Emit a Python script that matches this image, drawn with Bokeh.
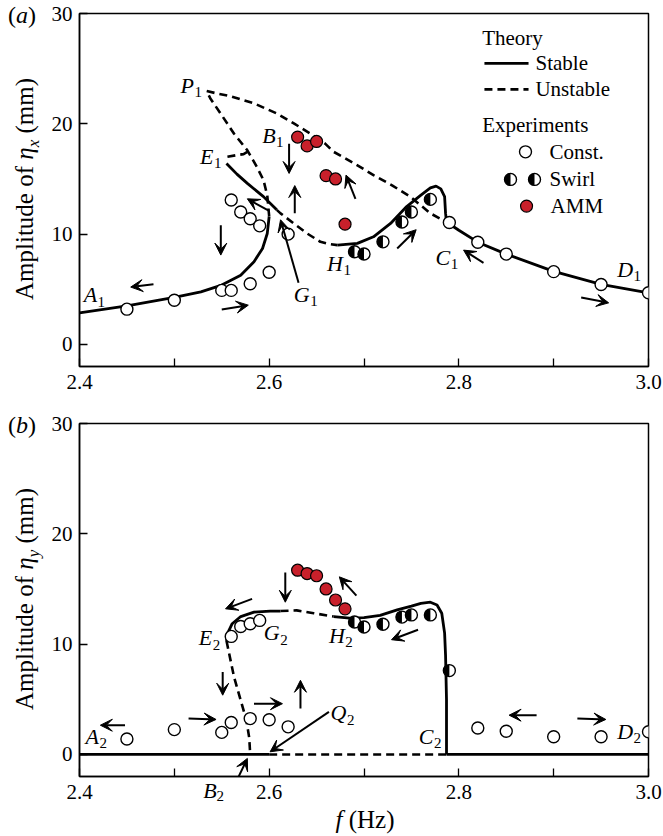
import numpy as np
from bokeh.plotting import figure
from bokeh.layouts import column, row
from bokeh.models import (Range1d, FixedTicker, PrintfTickFormatter, Label, Arrow, VeeHead,
                          ColumnDataSource, LinearAxis, CustomJSTickFormatter, Div)
from bokeh.embed import file_html
from bokeh.resources import INLINE

SERIF = "Liberation Serif"
RED = "#C8202B"

# ---------------- panel (a): eta_x ----------------
# planar branch, lower stable part A1 -> fold
pl_lo_f = [2.400, 2.450, 2.500, 2.528, 2.550, 2.570, 2.584, 2.593, 2.598, 2.600]
pl_lo_a = [2.87, 3.50, 4.26, 4.77, 5.38, 6.28, 7.50, 8.70, 10.06, 11.60]
# planar branch, unstable part fold -> P1 -> C1
pl_un_f = [2.600, 2.599, 2.598, 2.594, 2.587, 2.577, 2.563, 2.549, 2.538, 2.534,
           2.545, 2.559, 2.584, 2.608, 2.626, 2.643, 2.659, 2.668, 2.690, 2.710,
           2.730, 2.749, 2.770, 2.787]
pl_un_a = [11.60, 12.60, 13.50, 14.90, 16.10, 17.60, 19.10, 20.90, 22.30, 22.97,
           22.75, 22.50, 21.85, 20.94, 20.04, 19.13, 18.20, 17.46, 16.40, 15.35,
           14.40, 13.38, 11.88, 11.10]
# planar branch, upper stable part C1 -> D1
pl_hi_f = [2.787, 2.800, 2.820, 2.850, 2.900, 2.950, 3.000]
pl_hi_a = [11.10, 10.35, 9.27, 8.19, 6.62, 5.44, 4.68]
# swirling branch
sw1_f = [2.555, 2.566, 2.577, 2.594, 2.608]
sw1_a = [16.41, 15.44, 14.60, 13.40, 12.20]
sw1u_f = [2.608, 2.612, 2.626, 2.640, 2.654, 2.663, 2.672]
sw1u_a = [12.20, 11.88, 10.97, 10.06, 9.30, 9.10, 9.00]
sw2_f = [2.672, 2.693, 2.710, 2.728, 2.745, 2.760, 2.770, 2.776, 2.781, 2.785, 2.786, 2.787]
sw2_a = [9.00, 9.16, 9.76, 10.97, 12.50, 13.54, 14.20, 14.35, 14.10, 13.40, 11.90, 11.10]
eb_f = [2.556, 2.565, 2.573, 2.577]
eb_a = [17.01, 17.15, 17.25, 17.45]

# experiments
cx_f = [2.45, 2.50, 2.55, 2.56, 2.58, 2.60, 2.56, 2.57, 2.58, 2.59, 2.62,
        2.79, 2.82, 2.85, 2.90, 2.95, 3.00]
cx_a = [3.2, 4.0, 4.9, 4.9, 5.5, 6.55, 13.1, 12.0, 11.4, 10.75, 10.0,
        11.06, 9.27, 8.19, 6.6, 5.44, 4.68]
sx_f = [2.69, 2.70, 2.72, 2.74, 2.75, 2.77]
sx_a = [8.4, 8.2, 9.3, 11.1, 12.0, 13.15]
ax_f = [2.63, 2.64, 2.65, 2.66, 2.67, 2.68]
ax_a = [18.8, 18.0, 18.4, 15.3, 15.0, 10.9]

# direction arrows (tail -> head)
arr_a = dict(
    x0=[2.478, 2.550, 2.549, 2.600, 2.631, 2.627, 2.621, 2.691, 2.735, 2.826, 2.929],
    y0=[5.45, 3.17, 10.8, 12.1, 5.6, 11.9, 18.2, 13.2, 8.7, 7.4, 4.26],
    x1=[2.454, 2.578, 2.549, 2.577, 2.612, 2.627, 2.621, 2.681, 2.755, 2.805, 2.958],
    y1=[5.2, 3.56, 8.1, 13.2, 11.3, 14.4, 15.5, 15.35, 10.4, 8.55, 3.77],
)
labels_a = [("A", "1", 2.4044, 4.5), ("P", "1", 2.5065, 23.5), ("E", "1", 2.527, 17.07),
            ("B", "1", 2.5926, 18.98), ("G", "1", 2.626, 4.56), ("H", "1", 2.661, 7.34),
            ("C", "1", 2.7754, 7.89), ("D", "1", 2.967, 6.8)]

# ---------------- panel (b): eta_y ----------------
py_s1_f = [2.400, 2.600]
py_s1_a = [0.0, 0.0]
py_u_f = [2.600, 2.787]
py_u_a = [0.0, 0.0]
py_s2_f = [2.787, 3.000]
py_s2_a = [0.0, 0.0]
swy1_f = [2.555, 2.556, 2.561, 2.570, 2.584, 2.601, 2.612]
swy1_a = [10.30, 10.95, 11.85, 12.50, 12.90, 13.00, 13.00]
swy1u_f = [2.612, 2.629, 2.647, 2.668]
swy1u_a = [13.00, 13.06, 12.80, 12.50]
swy2_f = [2.668, 2.685, 2.700, 2.717, 2.735, 2.750, 2.760, 2.770, 2.777, 2.782, 2.785, 2.786, 2.787, 2.787]
swy2_a = [12.50, 12.35, 12.40, 12.60, 13.10, 13.45, 13.70, 13.80, 13.55, 12.80, 11.00, 9.00, 5.00, 0.00]
eby_f = [2.555, 2.563, 2.570, 2.576, 2.579, 2.580]
eby_a = [10.30, 7.00, 4.90, 3.10, 1.50, 0.00]

cy_f = [2.45, 2.50, 2.55, 2.56, 2.58, 2.60, 2.62, 2.56, 2.57, 2.58, 2.59,
        2.82, 2.85, 2.90, 2.95, 3.00]
cy_a = [1.4, 2.25, 2.0, 2.9, 3.25, 3.15, 2.5, 10.7, 11.6, 11.85, 12.15,
        2.4, 2.1, 1.6, 1.6, 2.05]
sy_f = [2.69, 2.70, 2.72, 2.74, 2.75, 2.77, 2.79]
sy_a = [12.0, 11.55, 11.8, 12.45, 12.65, 12.65, 7.6]
ay_f = [2.63, 2.64, 2.65, 2.66, 2.67, 2.68]
ay_a = [16.7, 16.4, 16.2, 15.0, 14.0, 13.2]

arr_b = dict(
    x0=[2.448, 2.515, 2.584, 2.551, 2.633, 2.663, 2.617, 2.582, 2.692, 2.757, 2.882, 2.925],
    y0=[2.65, 3.26, 4.6, 7.47, 4.16, 3.86, 16.5, 14.1, 14.4, 11.3, 3.56, 3.26],
    x1=[2.422, 2.544, 2.614, 2.551, 2.633, 2.601, 2.617, 2.554, 2.674, 2.729, 2.853, 2.955],
    y1=[2.65, 3.17, 4.6, 5.37, 6.72, 0.24, 13.8, 13.2, 16.1, 10.4, 3.56, 3.17],
)
# pointer from the B2 tag (below the axis) up to the branch point
b2_arrow = (2.559, -3.6, 2.577, -0.36)
labels_b = [("A", "2", 2.4063, 1.66), ("E", "2", 2.5258, 10.59), ("G", "2", 2.5943, 11.04),
            ("H", "2", 2.663, 10.8), ("Q", "2", 2.6647, 3.77), ("C", "2", 2.7578, 1.66),
            ("D", "2", 2.967, 2.11)]
# B2 tag sits under the axis line, level with the tick labels
b2_letter_x, b2_sub_x = 2.5377, 2.5483

# ---------------- helpers ----------------
PX_X = 569 / 0.6   # screen px per Hz
PX_Y = 353 / 32.0  # screen px per mm
ITALIC_W = {"A": 0.611, "B": 0.611, "C": 0.667, "D": 0.722, "E": 0.611,
            "G": 0.722, "H": 0.722, "P": 0.611, "Q": 0.722}
SIDE_W = 45


def mk_label(x, y, s, size=21, style="normal"):
    return Label(x=x, y=y, text=s, text_font=SERIF, text_font_size=f"{size}px",
                 text_font_style=style, text_align="left", text_baseline="middle",
                 text_color="black")


def txt(p, x, y, s, size=21, style="normal"):
    p.add_layout(mk_label(x, y, s, size, style))


def make_panel(height, top, bottom):
    p = figure(title=None, width=663 - SIDE_W, height=height,
               x_range=Range1d(2.4, 3.0), y_range=Range1d(-2, 30),
               output_backend="svg", toolbar_location=None,
               min_border_left=79 - SIDE_W, min_border_right=15,
               min_border_top=top, min_border_bottom=bottom)
    p.xgrid.visible = False
    p.ygrid.visible = False
    p.background_fill_color = "white"
    p.border_fill_color = "white"
    p.outline_line_color = "black"
    p.outline_line_width = 1.5
    p.outline_line_alpha = 1.0
    p.xaxis.ticker = FixedTicker(ticks=[2.4, 2.6, 2.8, 3.0], minor_ticks=[2.5, 2.7, 2.9])
    p.yaxis.ticker = FixedTicker(ticks=[0, 10, 20, 30], minor_ticks=[])
    p.xaxis.formatter = PrintfTickFormatter(format="%.1f")
    p.yaxis.formatter = PrintfTickFormatter(format="%d")
    for ax in p.axis:
        ax.major_tick_in = 8
        ax.major_tick_out = 0
        ax.minor_tick_in = 8
        ax.minor_tick_out = 0
        ax.axis_line_width = 1.5
        ax.major_tick_line_width = 1.3
        ax.minor_tick_line_width = 1.3
        ax.major_label_text_font = SERIF
        ax.major_label_text_font_size = "21px"
        ax.major_label_text_color = "black"
    p.xaxis.major_label_standoff = 8
    p.yaxis.major_label_standoff = 7
    return p


def stable(p, f, a):
    p.line(f, a, line_color="black", line_width=2.8)


def unstable(p, f, a):
    p.line(f, a, line_color="black", line_width=2.6, line_dash="8 5")


def const_pts(p, f, a):
    p.scatter(f, a, size=12, fill_color="white", line_color="black", line_width=1.4)


def swirl_pts(p, f, a):
    p.scatter(f, a, size=12, fill_color="white", line_color=None)
    p.wedge(f, a, radius=6, radius_units="screen", start_angle=np.pi / 2,
            end_angle=3 * np.pi / 2, fill_color="black", line_color=None)
    p.scatter(f, a, size=12, fill_color=None, line_color="black", line_width=1.4)


def amm_pts(p, f, a):
    p.scatter(f, a, size=12, fill_color=RED, line_color="black", line_width=1.2)


def head():
    return VeeHead(size=12, fill_color="black", line_color="black", line_width=1)


def arrows(p, d):
    src = ColumnDataSource(d)
    p.add_layout(Arrow(x_start="x0", y_start="y0", x_end="x1", y_end="y1", source=src,
                       line_color="black", line_width=2, end=head()))


def point_labels(p, items):
    for letter, sub, x, y in items:
        dx = (ITALIC_W[letter] * 22 + 0.5) / PX_X
        p.add_layout(mk_label(x, y, letter, 22, "italic"))
        p.add_layout(mk_label(x + dx, y - 7 / PX_Y, sub, 15))


def tag_axis(p, x, text, size, style, standoff):
    # an extra tick-label-only axis that writes one tag under the frame
    ax = LinearAxis(ticker=FixedTicker(ticks=[x], minor_ticks=[]),
                    formatter=CustomJSTickFormatter(code=f"return '{text}';"),
                    axis_line_color=None, major_tick_line_color=None, minor_tick_line_color=None,
                    major_tick_in=0, major_tick_out=0, minor_tick_in=0, minor_tick_out=0,
                    major_label_standoff=standoff, major_label_text_font=SERIF,
                    major_label_text_font_size=f"{size}px", major_label_text_font_style=style,
                    major_label_text_color="black")
    p.add_layout(ax, "below")


def side_div(tag, sub, height, tag_top, label_cy):
    html = (
        f"<div style=\"position:relative;width:{SIDE_W}px;height:{height}px;"
        f"font-family:'{SERIF}',serif;color:#000;\">"
        f"<div style=\"position:absolute;left:8px;top:{tag_top}px;font-size:24px;line-height:24px;"
        f"white-space:nowrap;\">(<i>{tag}</i>)</div>"
        f"<div style=\"position:absolute;left:24px;top:{label_cy}px;font-size:25px;line-height:25px;"
        f"white-space:nowrap;transform:translate(-50%,-50%) rotate(-90deg);\">"
        f"Amplitude of <i>&eta;<sub style=\"font-size:17px;line-height:0;\">{sub}</sub></i> (mm)</div>"
        f"</div>"
    )
    return Div(text=html, width=SIDE_W, height=height, margin=(0, 0, 0, 0))


# ---------------- panel (a) ----------------
pa = make_panel(400, 13, 34)
stable(pa, pl_lo_f, pl_lo_a)
unstable(pa, pl_un_f, pl_un_a)
stable(pa, pl_hi_f, pl_hi_a)
stable(pa, sw1_f, sw1_a)
unstable(pa, sw1u_f, sw1u_a)
stable(pa, sw2_f, sw2_a)
unstable(pa, eb_f, eb_a)
arrows(pa, arr_a)
const_pts(pa, cx_f, cx_a)
swirl_pts(pa, sx_f, sx_a)
amm_pts(pa, ax_f, ax_a)
point_labels(pa, labels_a)

# legend
lx = 2.8246
txt(pa, lx, 27.77, "Theory")
stable(pa, [2.827, 2.8735], [25.48, 25.48])
txt(pa, 2.8808, 25.48, "Stable")
unstable(pa, [2.827, 2.8735], [23.12, 23.12])
txt(pa, 2.8808, 23.12, "Unstable")
txt(pa, lx, 19.88, "Experiments")
const_pts(pa, [2.8703], [17.46])
txt(pa, 2.8956, 17.46, "Const.")
swirl_pts(pa, [2.8545, 2.8798], [14.96, 14.96])
txt(pa, 2.8956, 14.96, "Swirl")
amm_pts(pa, [2.8714], [12.54])
txt(pa, 2.8967, 12.54, "AMM")

da = side_div("a", "x", 400, 3, 188.5)

# ---------------- panel (b) ----------------
pb = make_panel(410, 23, 34)
stable(pb, py_s1_f, py_s1_a)
unstable(pb, py_u_f, py_u_a)
stable(pb, py_s2_f, py_s2_a)
stable(pb, swy1_f, swy1_a)
unstable(pb, swy1u_f, swy1u_a)
stable(pb, swy2_f, swy2_a)
unstable(pb, eby_f, eby_a)
arrows(pb, arr_b)
const_pts(pb, cy_f, cy_a)
swirl_pts(pb, sy_f, sy_a)
amm_pts(pb, ay_f, ay_a)
point_labels(pb, labels_b)
tag_axis(pb, b2_letter_x, "B", 22, "italic", -24)
tag_axis(pb, b2_sub_x, "2", 15, "normal", -15)
pb.add_layout(Arrow(x_start=b2_arrow[0], y_start=b2_arrow[1], x_end=b2_arrow[2], y_end=b2_arrow[3],
                    line_color="black", line_width=2, end=head()), "below")

db = side_div("b", "y", 410, 13, 199)

# x-axis title "f (Hz)"
dx_html = (
    f"<div style=\"position:relative;width:663px;height:26px;font-family:'{SERIF}',serif;color:#000;\">"
    f"<div style=\"position:absolute;left:365px;top:9px;font-size:25px;line-height:25px;"
    f"white-space:nowrap;transform:translate(-50%,-50%);\"><i>f</i> (Hz)</div></div>"
)
dxl = Div(text=dx_html, width=663, height=26, margin=(0, 0, 0, 0))

layout = column(row(da, pa), row(db, pb), dxl)
open("out.html", "w").write(file_html(layout, INLINE))
